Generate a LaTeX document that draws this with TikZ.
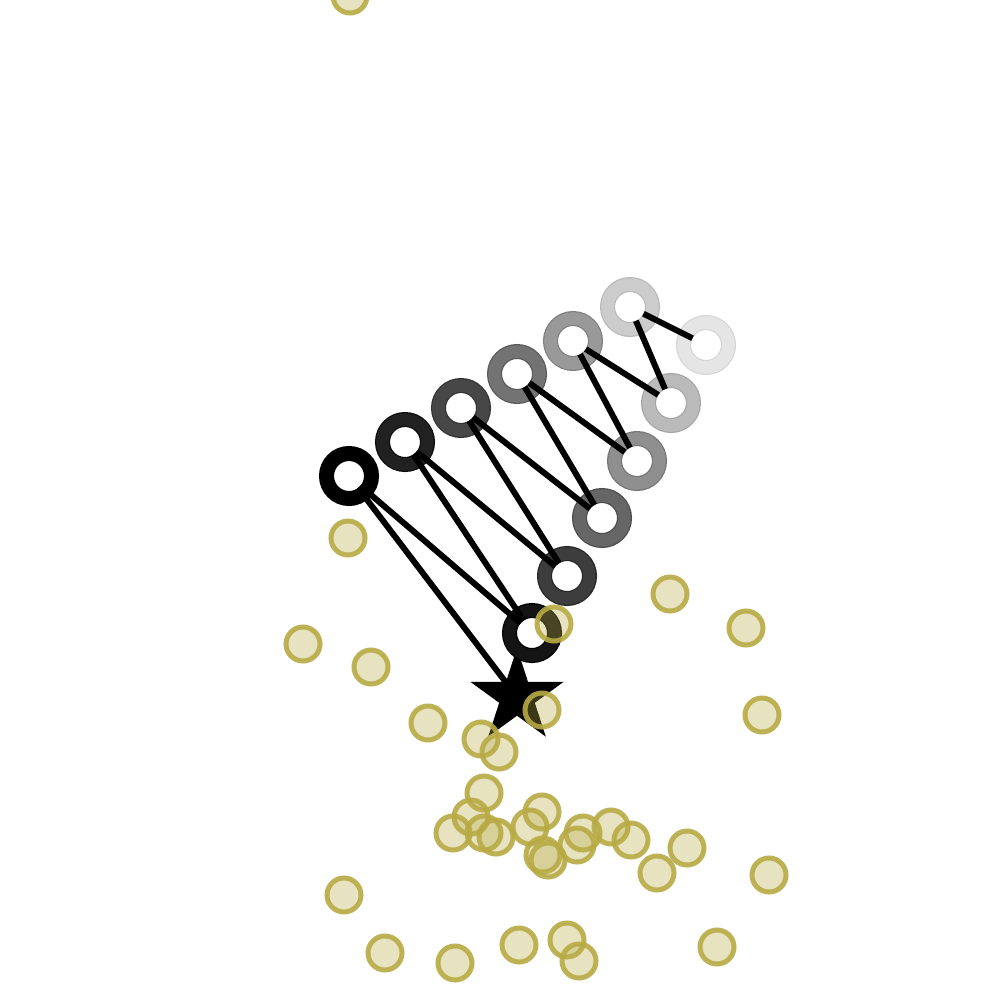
\documentclass[tikz,border=0pt]{standalone}
\usepackage{tikz}
\usepackage{xcolor}
\usetikzlibrary{shapes.geometric}
\definecolor{olv}{RGB}{183,170,68}
\tikzset{
  ring/.style 2 args={circle, inner sep=0pt, minimum size=4.5mm, fill=white,
    draw=black!#1, line width=1.5mm, outer sep=-0.75mm,
    postaction={draw=black!#2, line width=1.25mm}},
  dot/.style={circle, inner sep=0pt, minimum size=3.4mm, draw=olv, draw opacity=0.9,
    fill=olv, fill opacity=0.33, line width=0.5mm},
  goal/.style={star, star points=5, star point ratio=2.62, minimum size=9.8mm,
    inner sep=0pt, fill=black}
}

\begin{document}
\begin{tikzpicture}[x=0.01cm, y=-0.01cm]
      \useasboundingbox (0,0) rectangle (1000,1000);
      \node[goal] (s) at (517,697) {};
      \foreach \name/\x/\y/\rim/\band in {n0/349/476/100/100, n1/405/442/95/87, n2/461/408/80/72,
          n3/517/374/65/55, n4/573/341/50/40, n5/630/307/27/20, n6/706/345/16/10,
          n7/671/403/35/27, n8/637/461/54/44, n9/602/518/70/60, n10/567/576/85/76, n11/532/633/100/92}
        \node[ring={\rim}{\band}] (\name) at (\x,\y) {};
      \draw[line width=1.7pt] (n0) -- (s.center);
      \foreach \a/\b in {n0/n11, n1/n11, n1/n10, n2/n10, n2/n9, n3/n9, n3/n8, n4/n8, n4/n7, n5/n7, n5/n6}
        \draw[line width=1.7pt] (\a) -- (\b);
      \foreach \x/\y [count=\i] in {350/-4, 348/538, 670/594, 746/628, 303/644, 371/667, 554/624,
          762/715, 428/723, 542/710, 481/739, 499/752, 484/793, 471/817, 453/833, 484/833,
          496/837, 530/827, 542/812, 543/855, 548/860, 577/845, 583/833, 611/827, 631/840,
          657/873, 687/848, 769/875, 344/895, 385/953, 455/963, 519/945, 567/940, 579/961, 717/947}
        \node[dot] (d\i) at (\x,\y) {};
    \end{tikzpicture}
\end{document}
